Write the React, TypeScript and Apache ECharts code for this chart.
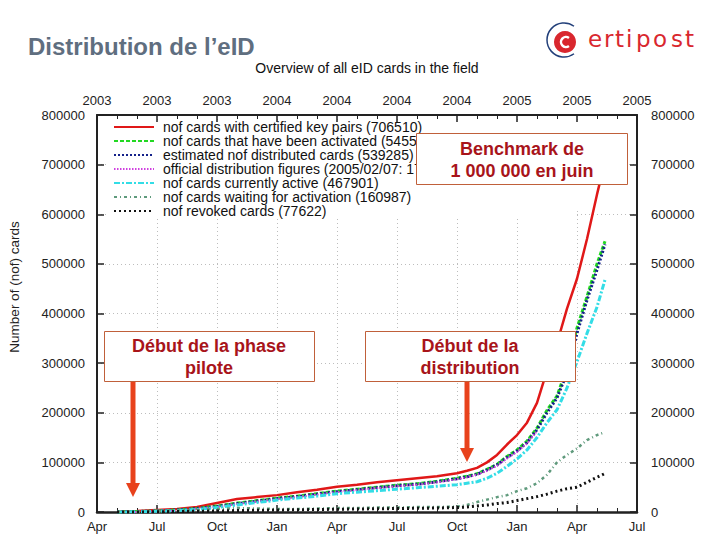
import React, { useEffect, useRef } from "react";
import * as echarts from "echarts";

// x positions: months since April 2003
const months = [1, 2, 3, 4, 5, 6, 7, 8, 9, 10, 11, 12, 13, 14, 15, 16, 17, 18, 18.5, 19, 19.5, 20, 20.5, 21, 21.5, 22, 22.5, 23, 23.5, 24, 24.5, 25, 25.4];

const certified = [500, 2000, 4000, 6000, 10000, 18000, 26000, 30000, 34000, 40000, 45000, 51000, 55000, 60000, 64000, 68000, 72000, 78000, 83000, 89000, 100000, 115000, 136000, 155000, 180000, 220000, 285000, 340000, 410000, 470000, 550000, 640000, 706510];
const activated = [0, 1000, 2000, 4000, 7000, 12000, 18000, 23000, 28000, 32000, 37000, 42000, 46000, 50000, 54000, 57000, 62000, 68000, 72000, 77000, 86000, 96000, 112000, 125000, 143000, 169000, 205000, 234000, 290000, 371000, 434000, 500000, 545523];
const distributed = [0, 1000, 2000, 4000, 7000, 11000, 17000, 22000, 27000, 31000, 36000, 41000, 45000, 49000, 53000, 56000, 61000, 67000, 71000, 76000, 85000, 95000, 110000, 123000, 140000, 166000, 200000, 230000, 280000, 360000, 427000, 488000, 539285];
const official = [0, 0, 1000, 3000, 6000, 10000, 16000, 21000, 26000, 30000, 35000, 40000, 44000, 48000, 52000, 55000, 60000, 66000, 70000, 75000, 83000, 93000, 108000, 121000, 138000, 163000, null, null, null, null, null, null, null];
const active = [0, 500, 1500, 3000, 5000, 9000, 14000, 19000, 24000, 28000, 32000, 37000, 40000, 43000, 46000, 49000, 52000, 55000, 58000, 61000, 68000, 78000, 92000, 107000, 125000, 150000, 180000, 206000, 250000, 303000, 360000, 413000, 467901];
const waiting = [500, 1000, 2000, 3000, 4000, 6000, 8000, 7000, 6000, 6000, 7000, 8000, 8000, 9000, 9000, 10000, 10000, 11000, 14000, 20000, 25000, 30000, 34000, 42000, 48000, 58000, 75000, 100000, 115000, 128000, 145000, 155000, 160987];
const revoked = [0, 0, 500, 1000, 1500, 2000, 3000, 3500, 4000, 4500, 5000, 5500, 6000, 6500, 7000, 7500, 8000, 9000, 10000, 12000, 14000, 17000, 19000, 23000, 27000, 31000, 36000, 42000, 47000, 50000, 60000, 70000, 77622];

const seriesNames = [
  "nof cards with certified key pairs (706510)",
  "nof cards that have been activated (545523)",
  "estimated nof distributed cards (539285)",
  "official distribution figures (2005/02/07: 175000)",
  "nof cards currently active (467901)",
  "nof cards waiting for activation (160987)",
  "nof revoked cards (77622)",
];

const monthTickLabels = ["Apr", "Jul", "Oct", "Jan", "Apr", "Jul", "Oct", "Jan", "Apr", "Jul"];
const yearTickLabels = ["2003", "2003", "2003", "2004", "2004", "2004", "2004", "2005", "2005", "2005"];

const FONT = '"Liberation Sans", Arial, Helvetica, sans-serif';
const AXIS = "#222";
const ANN_TEXT = "#a8141a";
const BOX_STROKE = "#c0603a";
const ARROW = "#e8421c";
const LOGO_RED = "#d9272e";

function toPairs(values: (number | null)[]) {
  const out: [number, number][] = [];
  months.forEach((m, i) => {
    const v = values[i];
    if (v !== null && v !== undefined) out.push([m, v]);
  });
  return out;
}

function line(name: string, values: (number | null)[], color: string, width: number, type: any) {
  return {
    name,
    type: "line",
    symbol: "none",
    showSymbol: false,
    data: toPairs(values),
    lineStyle: { color, width, type },
    itemStyle: { color },
    z: 2,
  };
}

export default function App() {
  const ref = useRef<HTMLDivElement>(null);
  useEffect(() => {
    if (!ref.current) return;
    const chart = echarts.init(ref.current, null, { renderer: "svg" });
    const logoLetters = ["e", "r", "t", "i", "p", "o", "s", "t"];
    const logoX = [588, 604, 615, 626, 636, 653, 671, 685];
    const option: any = {
      animation: false,
      backgroundColor: "#fff",
      grid: { left: 97, right: 83, top: 115, bottom: 28, containLabel: false },
      legend: {
        orient: "vertical",
        left: 113,
        top: 120,
        itemWidth: 40,
        itemHeight: 14,
        itemGap: 0,
        padding: 0,
        selectedMode: false,
        data: seriesNames,
        itemStyle: { opacity: 0, borderWidth: 0 },
        textStyle: { fontSize: 14, fontFamily: FONT, color: "#111", lineHeight: 14, padding: [0, 0, 0, 4] },
      },
      xAxis: [
        {
          type: "value",
          min: 0,
          max: 27,
          interval: 3,
          position: "bottom",
          axisLine: { show: true, onZero: false, lineStyle: { color: AXIS, width: 2.5 } },
          axisTick: { show: true, inside: true, length: 7, lineStyle: { color: AXIS, width: 1.5 } },
          minorTick: { show: true, splitNumber: 3, length: 4, lineStyle: { color: AXIS, width: 1 } },
          axisLabel: {
            formatter: (v: number) => monthTickLabels[Math.round(v / 3)] ?? "",
            color: AXIS,
            fontSize: 13,
            fontFamily: FONT,
            margin: 8,
          },
          splitLine: { show: true, lineStyle: { color: "#bdbdbd", type: [1, 3], width: 1 } },
        },
        {
          type: "value",
          min: 0,
          max: 27,
          interval: 3,
          position: "top",
          axisLine: { show: true, onZero: false, lineStyle: { color: AXIS, width: 2 } },
          axisTick: { show: true, inside: true, length: 7, lineStyle: { color: AXIS, width: 1.5 } },
          minorTick: { show: true, splitNumber: 3, length: 4, lineStyle: { color: AXIS, width: 1 } },
          axisLabel: {
            formatter: (v: number) => yearTickLabels[Math.round(v / 3)] ?? "",
            color: AXIS,
            fontSize: 13,
            fontFamily: FONT,
            margin: 8,
          },
          splitLine: { show: false },
        },
      ],
      yAxis: [
        {
          type: "value",
          min: 0,
          max: 800000,
          interval: 100000,
          position: "left",
          axisLine: { show: true, onZero: false, lineStyle: { color: AXIS, width: 2 } },
          axisTick: { show: true, inside: true, length: 7, lineStyle: { color: AXIS, width: 1.5 } },
          axisLabel: { formatter: (v: number) => String(v), color: AXIS, fontSize: 13, fontFamily: FONT, margin: 12 },
          splitLine: { show: true, lineStyle: { color: "#bdbdbd", type: [1, 3], width: 1 } },
        },
        {
          type: "value",
          min: 0,
          max: 800000,
          interval: 100000,
          position: "right",
          axisLine: { show: true, onZero: false, lineStyle: { color: AXIS, width: 2 } },
          axisTick: { show: true, inside: true, length: 7, lineStyle: { color: AXIS, width: 1.5 } },
          axisLabel: { formatter: (v: number) => String(v), color: AXIS, fontSize: 13, fontFamily: FONT, margin: 14 },
          splitLine: { show: false },
        },
      ],
      series: [
        line(seriesNames[0], certified, "#e01818", 2.5, "solid"),
        line(seriesNames[1], activated, "#22d822", 3, [4, 2]),
        line(seriesNames[2], distributed, "#14218a", 3, [2, 2]),
        line(seriesNames[3], official, "#d040e0", 2, [1.5, 1.5]),
        line(seriesNames[4], active, "#33dde6", 3, [6, 2, 2, 2]),
        line(seriesNames[5], waiting, "#5f9a7c", 2.5, [3, 3, 1, 3]),
        line(seriesNames[6], revoked, "#111111", 3, [2, 3]),
      ],
      graphic: [
        // blank area behind key (hides grid there)
        { type: "rect", z: 1, silent: true, shape: { x: 106, y: 123, width: 470, height: 95 }, style: { fill: "#fff" } },
        { type: "rect", z: 1, silent: true, shape: { x: 576, y: 123, width: 52, height: 88 }, style: { fill: "#fff" } },
        // title
        {
          type: "text", z: 100, x: 28, y: 34,
          style: { text: "Distribution de l\u2019eID", font: `bold 24px ${FONT}`, fill: "#5f6e7f", align: "left", verticalAlign: "top" },
        },
        {
          type: "text", z: 100, x: 367, y: 68,
          style: { text: "Overview of all eID cards in the field", font: `14px ${FONT}`, fill: "#111", align: "center", verticalAlign: "middle" },
        },
        {
          type: "text", z: 100, x: 14, y: 287, rotation: Math.PI / 2,
          style: { text: "Number of (nof) cards", font: `13.5px ${FONT}`, fill: "#222", align: "center", verticalAlign: "middle" },
        },
        // logo
        { type: "arc", z: 100, shape: { cx: 564, cy: 40, r: 17, startAngle: 0.3 * Math.PI, endAngle: 1.7 * Math.PI, clockwise: true }, style: { stroke: "#23407a", lineWidth: 1.5, fill: "none" } },
        { type: "circle", z: 100, shape: { cx: 565, cy: 42, r: 11 }, style: { fill: LOGO_RED } },
        { type: "arc", z: 101, shape: { cx: 566, cy: 42, r: 5, startAngle: 0.3 * Math.PI, endAngle: 1.7 * Math.PI, clockwise: true }, style: { stroke: "#fff", lineWidth: 2.5, fill: "none" } },
        ...logoLetters.map((ch, i) => ({
          type: "text", z: 100, x: logoX[i], y: 39,
          style: { text: ch, font: `23px "DejaVu Sans", sans-serif`, fill: LOGO_RED, align: "left", verticalAlign: "middle" },
        })),
        // benchmark box
        { type: "rect", z: 50, shape: { x: 416.5, y: 133.5, width: 211, height: 51 }, style: { fill: "#fff", stroke: BOX_STROKE, lineWidth: 1 } },
        {
          type: "text", z: 51, x: 522, y: 160,
          style: { text: "Benchmark de\n1 000 000 en juin", font: `bold 18px ${FONT}`, lineHeight: 22, fill: ANN_TEXT, align: "center", verticalAlign: "middle" },
        },
        // pilot box
        { type: "rect", z: 50, shape: { x: 104.5, y: 331.5, width: 210, height: 50 }, style: { fill: "#fff", stroke: BOX_STROKE, lineWidth: 1 } },
        {
          type: "text", z: 51, x: 209, y: 357,
          style: { text: "D\u00e9but de la phase\npilote", font: `bold 18px ${FONT}`, lineHeight: 22, fill: ANN_TEXT, align: "center", verticalAlign: "middle" },
        },
        // distribution box
        { type: "rect", z: 50, shape: { x: 365.5, y: 331.5, width: 210, height: 50 }, style: { fill: "#fff", stroke: BOX_STROKE, lineWidth: 1 } },
        {
          type: "text", z: 51, x: 470, y: 357,
          style: { text: "D\u00e9but de la\ndistribution", font: `bold 18px ${FONT}`, lineHeight: 22, fill: ANN_TEXT, align: "center", verticalAlign: "middle" },
        },
        // arrows
        { type: "rect", z: 50, shape: { x: 130.5, y: 382, width: 5, height: 102 }, style: { fill: ARROW } },
        { type: "polygon", z: 50, shape: { points: [[126, 483], [140, 483], [133, 497]] }, style: { fill: ARROW } },
        { type: "rect", z: 50, shape: { x: 464.5, y: 382, width: 5, height: 67 }, style: { fill: ARROW } },
        { type: "polygon", z: 50, shape: { points: [[460, 448], [474, 448], [467, 462]] }, style: { fill: ARROW } },
      ],
    };
    chart.setOption(option);
    return () => chart.dispose();
  }, []);
  return <div ref={ref} style={{ position: "absolute", left: 0, top: 0, width: 720, height: 540, background: "#fff" }} />;
}
